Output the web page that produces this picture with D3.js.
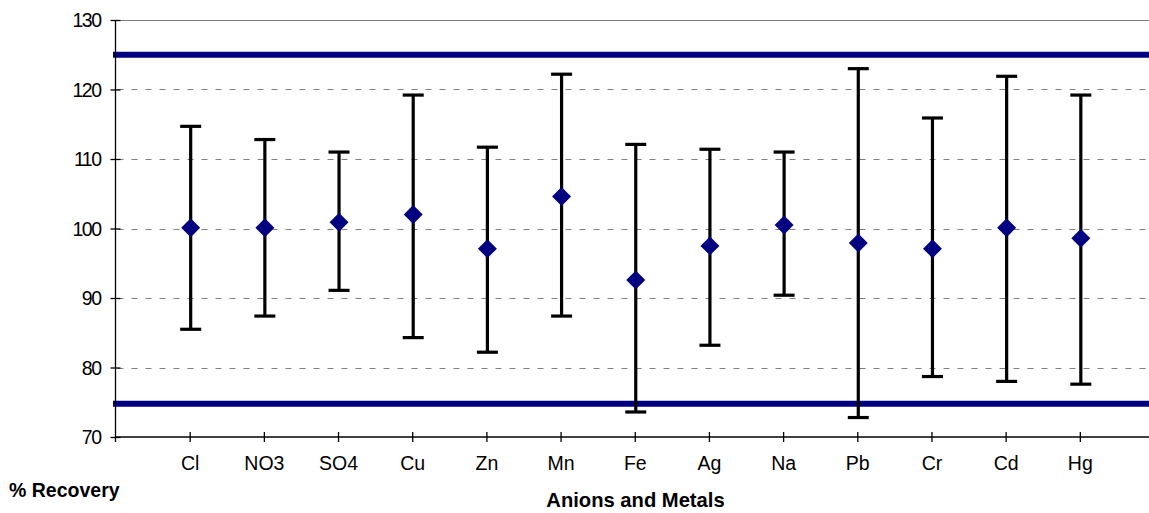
<!DOCTYPE html>
<html>
<head>
<meta charset="utf-8">
<script src="https://cdn.jsdelivr.net/npm/d3@7/dist/d3.min.js"></script>
<style>
  html, body { margin: 0; padding: 0; background: #fff; }
  svg { display: block; font-family: "Liberation Sans", Arial, sans-serif; }
</style>
</head>
<body>
<svg id="chart" width="1149" height="513"></svg>
<script>
const categories = ["Cl", "NO3", "SO4", "Cu", "Zn", "Mn", "Fe", "Ag", "Na", "Pb", "Cr", "Cd", "Hg"];
const meanValues = [100.1, 100.1, 100.9, 102.0, 97.1, 104.6, 92.6, 97.5, 100.5, 97.9, 97.1, 100.1, 98.6];
const upperValues = [114.7, 112.8, 111.0, 119.2, 111.7, 122.2, 112.1, 111.4, 111.0, 123.0, 115.9, 121.9, 119.2];
const lowerValues = [85.5, 87.4, 91.1, 84.3, 82.2, 87.4, 73.6, 83.2, 90.4, 72.8, 78.7, 78.0, 77.6];
const limitValues = [125, 74.8];
const yTicks = [70, 80, 90, 100, 110, 120, 130];
const yTitle = "% Recovery";
const xTitle = "Anions and Metals";

const svg = d3.select("#chart");
const mLeft = 115.5, mRight = 1154, mTop = 20, mBottom = 437;

const x = d3.scalePoint().domain(categories).range([mLeft, mRight]).padding(1);
const y = d3.scaleLinear().domain([70, 130]).range([mBottom, mTop]);

// gridlines
const grid = svg.append("g");
yTicks.filter(t => t > 70).forEach(t => {
  grid.append("line")
    .attr("x1", mLeft).attr("x2", 1149)
    .attr("y1", Math.round(y(t)) + 0.5).attr("y2", Math.round(y(t)) + 0.5)
    .attr("stroke", "#808080").attr("stroke-width", 1)
    .attr("stroke-dasharray", t === 130 ? null : "6,8")
    .attr("stroke-dashoffset", -16);
});

// limit lines
svg.append("g").selectAll("line").data(limitValues).join("line")
  .attr("x1", 113).attr("x2", 1149)
  .attr("y1", d => y(d)).attr("y2", d => y(d))
  .attr("stroke", "#000080").attr("stroke-width", 6);

// y axis
const yAxis = d3.axisLeft(y).tickValues(yTicks).tickSize(5).tickPadding(9).tickSizeOuter(0);
const gy = svg.append("g").attr("transform", `translate(${mLeft},0)`).call(yAxis);
gy.select(".domain").attr("stroke", "#000").attr("stroke-width", 1.3).attr("d", `M0,${mTop}V${mBottom + 5}`);
gy.selectAll(".tick line").attr("x1", 5).attr("x2", -5).attr("stroke", "#000").attr("stroke-width", 1.3);
gy.selectAll(".tick text").attr("font-size", 19.5).attr("fill", "#000")
  .attr("letter-spacing", -1.5).attr("x", -15).attr("dy", "0.35em")
  .style("font-family", '"Liberation Sans", Arial, sans-serif');

// x axis
const xAxis = d3.axisBottom(x).tickSize(5).tickPadding(14).tickSizeOuter(0);
const gx = svg.append("g").attr("transform", `translate(0,${mBottom})`).call(xAxis);
gx.select(".domain").attr("stroke", "#000").attr("stroke-width", 1.3).attr("d", `M${mLeft},0H1149`);
gx.selectAll(".tick line").attr("y1", -5).attr("y2", 5).attr("stroke", "#000").attr("stroke-width", 1.3);
gx.selectAll(".tick text").attr("font-size", 19.5).attr("fill", "#000").attr("y", 19).attr("dy", "0.71em")
  .style("font-family", '"Liberation Sans", Arial, sans-serif');

// error bars
const data = categories.map((c, i) => ({ c, mean: meanValues[i], hi: upperValues[i], lo: lowerValues[i] }));
const eb = svg.append("g").attr("stroke", "#000").attr("stroke-width", 3.2);
eb.selectAll("line.v").data(data).join("line").attr("class", "v")
  .attr("x1", d => x(d.c) + 1).attr("x2", d => x(d.c) + 1)
  .attr("y1", d => y(d.hi)).attr("y2", d => y(d.lo));
eb.selectAll("line.t").data(data).join("line").attr("class", "t")
  .attr("x1", d => x(d.c) - 9.5).attr("x2", d => x(d.c) + 11.5)
  .attr("y1", d => y(d.hi)).attr("y2", d => y(d.hi));
eb.selectAll("line.b").data(data).join("line").attr("class", "b")
  .attr("x1", d => x(d.c) - 9.5).attr("x2", d => x(d.c) + 11.5)
  .attr("y1", d => y(d.lo)).attr("y2", d => y(d.lo));

// diamonds
const sym = d3.symbol().type(d3.symbolSquare).size(180);
svg.append("g").selectAll("path").data(data).join("path")
  .attr("d", sym)
  .attr("transform", d => `translate(${x(d.c) + 1},${y(d.mean)}) rotate(45)`)
  .attr("fill", "#000080");

// titles
svg.append("text").attr("x", 9).attr("y", 497).attr("font-size", 19.5).attr("font-weight", "bold")
  .attr("fill", "#000").text(yTitle);
svg.append("text").attr("x", 635.5).attr("y", 507).attr("text-anchor", "middle")
  .attr("font-size", 20.2).attr("font-weight", "bold").attr("fill", "#000").text(xTitle);
</script>
</body>
</html>
